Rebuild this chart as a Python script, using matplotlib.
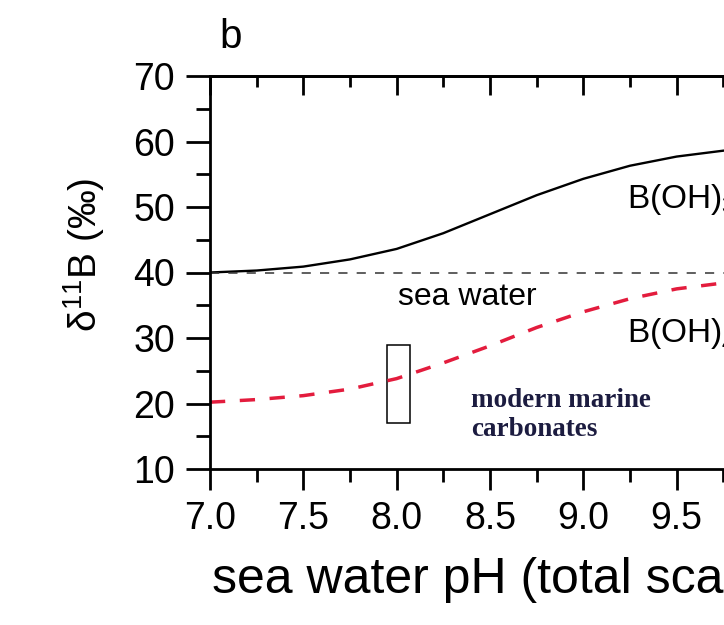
import matplotlib
matplotlib.use("Agg")
import matplotlib.pyplot as plt
from matplotlib.patches import Rectangle
from matplotlib.ticker import MultipleLocator, FormatStrFormatter

# values (pH, delta11B in permil)
ph = [7.0, 7.25, 7.5, 7.75, 8.0, 8.25, 8.5, 8.75, 9.0, 9.25, 9.5, 9.75, 10.0]
boric_acid = [40.0, 40.3, 40.9, 42.0, 43.6, 46.0, 48.9, 51.8, 54.3, 56.3, 57.7, 58.6, 59.2]
borate = [20.2, 20.6, 21.2, 22.2, 23.8, 26.2, 28.8, 31.6, 34.0, 36.0, 37.5, 38.4, 39.0]
seawater = 40.0
# modern marine carbonates box: pH range and delta range
box_ph = (7.95, 8.07)
box_d11b = (17.0, 29.0)

plt.rcParams.update({"font.family": ["Liberation Sans", "DejaVu Sans"],
                     "mathtext.fontset": "custom",
                     "mathtext.rm": "Liberation Sans",
                     "mathtext.it": "Liberation Sans:italic"})

fig = plt.figure(figsize=(7.24, 6.25), dpi=100)
ax = fig.add_axes([0.290, 0.2496, 0.7735, 0.6288])

ax.plot(ph, boric_acid, color="black", lw=1.7)
ax.axhline(seawater, color="#333333", lw=1.1, dashes=(6, 6))
ax.plot(ph, borate, color="#e31c3d", lw=2.5, dashes=(4.4, 4.2))
ax.add_patch(Rectangle((box_ph[0], box_d11b[0]), box_ph[1] - box_ph[0],
                       box_d11b[1] - box_d11b[0], fill=False, ec="black", lw=1.1))

ax.set_xlim(7, 10)
ax.set_ylim(10, 70)
ax.xaxis.set_major_locator(MultipleLocator(0.5))
ax.xaxis.set_minor_locator(MultipleLocator(0.25))
ax.yaxis.set_major_locator(MultipleLocator(10))
ax.yaxis.set_minor_locator(MultipleLocator(5))
ax.xaxis.set_major_formatter(FormatStrFormatter("%.1f"))

for s in ax.spines.values():
    s.set_linewidth(2.0)
ax.tick_params(axis="x", which="major", direction="out", length=15, width=2.0,
               labelsize=27, pad=8)
ax.tick_params(axis="x", which="minor", direction="out", length=9, width=2.0)
ax.tick_params(axis="y", which="major", direction="out", length=17, width=2.0,
               labelsize=27, pad=8)
ax.tick_params(axis="y", which="minor", direction="out", length=10, width=2.0)
# top axis: ticks pointing inward, no labels
top = ax.secondary_xaxis("top")
top.xaxis.set_major_locator(MultipleLocator(0.5))
top.xaxis.set_minor_locator(MultipleLocator(0.25))
top.tick_params(which="major", direction="in", length=14, width=2.0, labeltop=False)
top.tick_params(which="minor", direction="in", length=8, width=2.0)
top.spines["top"].set_linewidth(2.0)

ax.text(0.51, -0.3155, "sea water pH (total scale)", transform=ax.transAxes,
        ha="center", va="baseline", fontsize=36)
fig.text(0.116, 0.592, "δ$^{11}$B (‰)", rotation=90, ha="center", va="center",
         fontsize=28)
fig.text(0.319, 0.94, "b", ha="center", va="center", fontsize=29)

ax.text(8.006, 36.3, "sea water", ha="left", va="center", fontsize=23)
ax.text(9.232, 49.9, r"B(OH)$_3$", ha="left", va="baseline", fontsize=24)
ax.text(9.232, 29.4, r"B(OH)$_4^-$", ha="left", va="baseline", fontsize=24)
ax.text(8.40, 18.2, "modern marine\ncarbonates", ha="left", va="center",
        fontsize=19.5, fontweight="bold", color="#1c1c40",
        family=["Liberation Serif", "DejaVu Serif"], linespacing=1.2)

fig.savefig("out.png", dpi=100)
